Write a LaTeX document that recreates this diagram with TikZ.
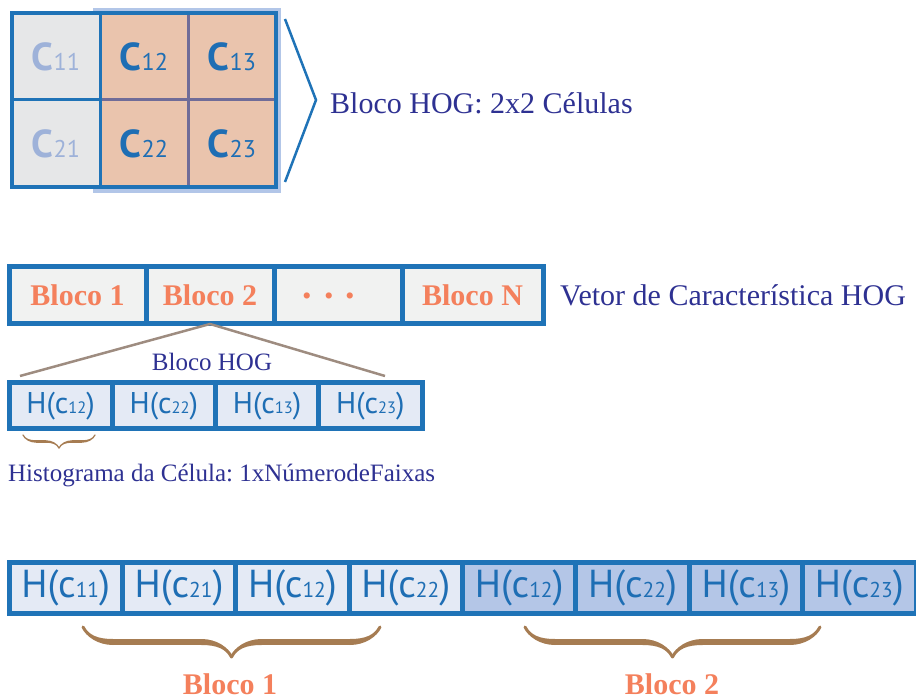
\documentclass[tikz,border=0pt]{standalone}
\usepackage{fontspec}
\usepackage{graphicx}
\setmainfont{Liberation Serif}
\setsansfont{PT Sans}
\usepackage{tikz}
\usetikzlibrary{positioning,decorations.pathreplacing,calligraphy}
\frenchspacing

\definecolor{hogblue}{RGB}{31,115,183}
\definecolor{hoghalo}{RGB}{178,198,232}
\definecolor{hoggray}{RGB}{230,231,232}
\definecolor{hogorange}{RGB}{234,196,173}
\definecolor{hogpurple}{RGB}{112,108,152}
\definecolor{hoglight}{RGB}{158,178,217}
\definecolor{hogtext}{RGB}{30,110,180}
\definecolor{hognavy}{RGB}{46,49,146}
\definecolor{hogsalmon}{RGB}{244,128,92}
\definecolor{barfill}{RGB}{241,242,241}
\definecolor{histfill}{RGB}{228,234,245}
\definecolor{histdark}{RGB}{180,198,231}
\definecolor{bracebrown}{RGB}{166,124,82}
\definecolor{linegray}{RGB}{158,140,128}

\newcommand{\cellC}[1]{{\bfseries C}\scalebox{0.62}{#1}}
\newcommand{\histH}[1]{H(c\scalebox{0.55}{#1})}

\begin{document}
\begin{tikzpicture}[x=1pt,y=-1pt,
    gridcell/.style={draw=hogblue,line width=3pt,minimum width=88pt,minimum height=87pt,
                     inner sep=0pt,outer sep=0pt,font=\sffamily\fontsize{39}{39}\selectfont},
    blockcell/.style={draw=hogblue,line width=5pt,fill=barfill,minimum height=57pt,
                      inner sep=0pt,outer sep=0pt,text=hogsalmon,font=\bfseries\fontsize{30}{30}\selectfont},
    histcell/.style={draw=hogblue,line width=5pt,fill=histfill,minimum width=103.25pt,minimum height=46pt,
                     inner sep=0pt,outer sep=0pt,text=hogtext,font=\sffamily\fontsize{30}{30}\selectfont},
    featcell/.style={histcell,minimum width=113.375pt,minimum height=51pt,
                     font=\sffamily\fontsize{39}{39}\selectfont},
    navylabel/.style={text=hognavy,inner sep=0pt,font=\fontsize{30}{30}\selectfont},
    salmonlabel/.style={text=hogsalmon,inner sep=0pt,font=\bfseries\fontsize{30}{30}\selectfont},
    curly/.style={decorate,decoration={calligraphic brace,amplitude=#1},
                  color=bracebrown,pen colour=bracebrown}]
  \useasboundingbox (0,0) rectangle (916,700);

  % HOG block on the cell grid
  \fill[hoghalo] (93,8) rectangle (281,193);
  \node[gridcell,fill=hoggray,text=hoglight] (c11) at (56,56.5) {\cellC{11}};
  \node[gridcell,fill=hoggray,text=hoglight] (c21) [below=0pt of c11] {\cellC{21}};
  \node[gridcell,fill=hogorange,draw=hogpurple,text=hogtext] (c12) [right=0pt of c11] {\cellC{12}};
  \node[gridcell,fill=hogorange,draw=hogpurple,text=hogtext] (c22) [below=0pt of c12] {\cellC{22}};
  \node[gridcell,fill=hogorange,draw=hogpurple,text=hogtext] (c13) [right=0pt of c12] {\cellC{13}};
  \node[gridcell,fill=hogorange,draw=hogpurple,text=hogtext] (c23) [below=0pt of c13] {\cellC{23}};
  \draw[hogblue,line width=4pt] (c11.north west) rectangle (c23.south east);
  \draw[hogblue,line width=3pt] (c12.north west) -- (c22.south west);
  \draw[hogblue,line width=2.5pt] (285,19) -- (316,100) -- (285,182);
  \node[navylabel,anchor=west] (blocklabel) at (330,103) {Bloco HOG: 2x2 Células};

  % feature vector of blocks
  \node[blockcell,minimum width=137pt] (b1) at (77.5,295.5) {Bloco 1};
  \node[blockcell,minimum width=128pt] (b2) [right=0pt of b1] {Bloco 2};
  \node[blockcell,minimum width=128pt,font=\bfseries\fontsize{38}{38}\selectfont] (bdots) [right=0pt of b2]
       {.\hspace{12pt}.\hspace{12pt}.\hspace{18pt}\mbox{}};
  \node[blockcell,minimum width=141pt] (bN) [right=0pt of bdots] {Bloco N};
  \node[navylabel,anchor=west] (veclabel) [right=17pt of bN] {Vetor de Característica HOG};

  % histograms of one block
  \node[histcell] (h1) at (60.625,406) {\histH{12}};
  \node[histcell] (h2) [right=0pt of h1] {\histH{22}};
  \node[histcell] (h3) [right=0pt of h2] {\histH{13}};
  \node[histcell] (h4) [right=0pt of h3] {\histH{23}};
  \coordinate (hl) at (20,376);
  \coordinate (hr) at (385,376);
  \draw[linegray,line width=2.5pt] (hl) -- (b2.south) -- (hr);
  \node[navylabel,font=\fontsize{25}{25}\selectfont] (hogsmall) at (212,362) {Bloco HOG};
  \draw[curly=13pt,line width=2.5pt] (95,435) -- (23,435);
  \node[navylabel,font=\fontsize{25}{25}\selectfont,anchor=base west] (histlabel) at (8,482)
       {Histograma da Célula: 1xNúmerodeFaixas};

  % concatenated histograms
  \node[featcell] (f1) at (65.6875,587.5) {\histH{11}};
  \node[featcell] (f2) [right=0pt of f1] {\histH{21}};
  \node[featcell] (f3) [right=0pt of f2] {\histH{12}};
  \node[featcell] (f4) [right=0pt of f3] {\histH{22}};
  \node[featcell,fill=histdark] (f5) [right=0pt of f4] {\histH{12}};
  \node[featcell,fill=histdark] (f6) [right=0pt of f5] {\histH{22}};
  \node[featcell,fill=histdark] (f7) [right=0pt of f6] {\histH{13}};
  \node[featcell,fill=histdark] (f8) [right=0pt of f7] {\histH{23}};
  \draw[curly=30pt,line width=6pt] (380,627) -- (83,627);
  \draw[curly=30pt,line width=6pt] (820,627) -- (525,627);
  \node[salmonlabel] (bloco1) at (230,684) {Bloco 1};
  \node[salmonlabel] (bloco2) at (672,684) {Bloco 2};
\end{tikzpicture}
\end{document}
